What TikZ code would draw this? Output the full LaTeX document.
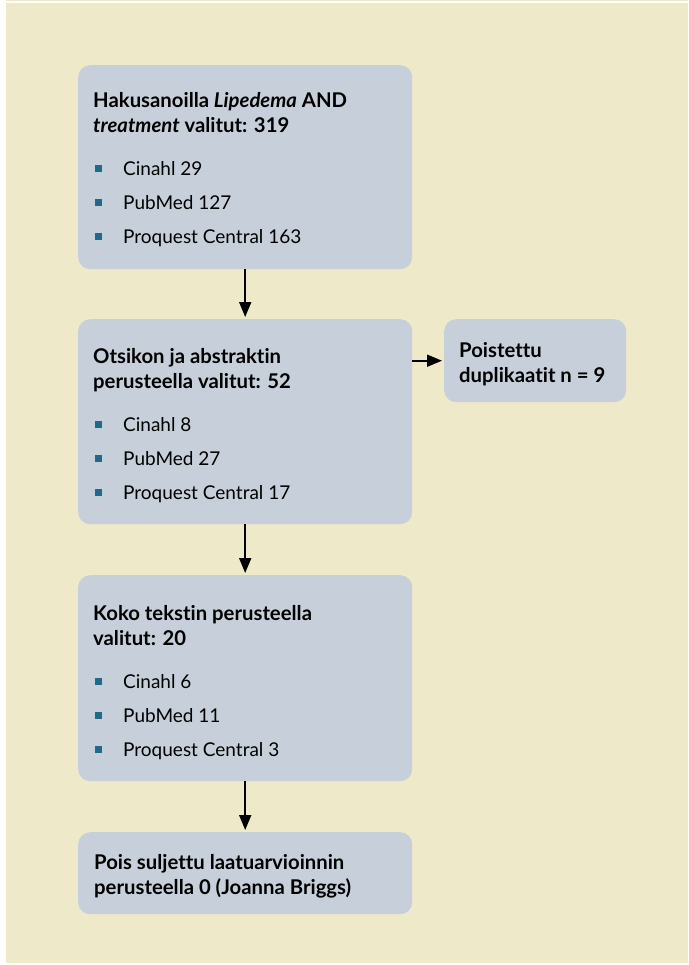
\documentclass[tikz,border=0pt]{standalone}
\usepackage{fontspec}
\setmainfont{Lato}[Ligatures=NoCommon]
\usetikzlibrary{arrows.meta}

\definecolor{paper}{HTML}{EDE9C9}
\definecolor{boxgrey}{HTML}{C7D0DA}
\definecolor{bullet}{HTML}{1E6B87}

\newcommand{\itm}[1]{\par\makebox[30pt][l]{\hspace{2pt}\textcolor{bullet}{\rule[3.5pt]{7pt}{7pt}}}#1}
\newcommand{\stagetext}[4]{\begin{minipage}[t][#1pt][t]{#2pt}%
  \fontsize{20.3}{25}\selectfont\bfseries\rule{0pt}{#3pt}#4\end{minipage}}
\newcommand{\listtext}[1]{\par\vspace{9pt}\fontsize{19}{34}\mdseries\selectfont#1}

\tikzset{
  stagebox/.style={fill=boxgrey, rounded corners=12pt, inner xsep=15pt, inner ysep=0pt, anchor=north west},
  flow/.style={line width=1.8pt, -{Triangle[length=15pt,width=12pt]}, shorten >=2pt}
}

\begin{document}
\begin{tikzpicture}[x=1pt,y=-1pt]
\useasboundingbox (0,0) rectangle (688,965);
\fill[paper] (6,0) rectangle (688,1.2);
\fill[paper] (6,3.3) rectangle (688,963);

\node[stagebox] (search) at (78,65) {\stagetext{204}{304}{42}{Hakusanoilla \textit{Lipedema} AND\\
  \textit{treatment} valitut: 319
  \listtext{\itm{Cinahl 29}\itm{PubMed 127}\itm{Proquest Central 163}}}};
\node[stagebox] (abstract) at (78,319) {\stagetext{205}{304}{44}{Otsikon ja abstraktin\\
  perusteella valitut: 52
  \listtext{\itm{Cinahl 8}\itm{PubMed 27}\itm{Proquest Central 17}}}};
\node[stagebox] (dupl) at (444,319) {\stagetext{83}{152}{38}{Poistettu\\ duplikaatit n = 9}};
\node[stagebox] (fulltext) at (78,575) {\stagetext{206}{304}{45}{Koko tekstin perusteella\\
  valitut: 20
  \listtext{\itm{Cinahl 6}\itm{PubMed 11}\itm{Proquest Central 3}}}};
\node[stagebox, inner xsep=16pt] (quality) at (78,832) {\stagetext{82}{302}{37}{Pois suljettu laatuarvioinnin\\
  perusteella 0 (Joanna Briggs)}};

\draw[flow] (search) -- (abstract);
\draw[flow] (abstract) -- (fulltext);
\draw[flow] (fulltext) -- (quality);
\draw[flow] (dupl.west -| abstract.east) -- (dupl.west);
\end{tikzpicture}
\end{document}
